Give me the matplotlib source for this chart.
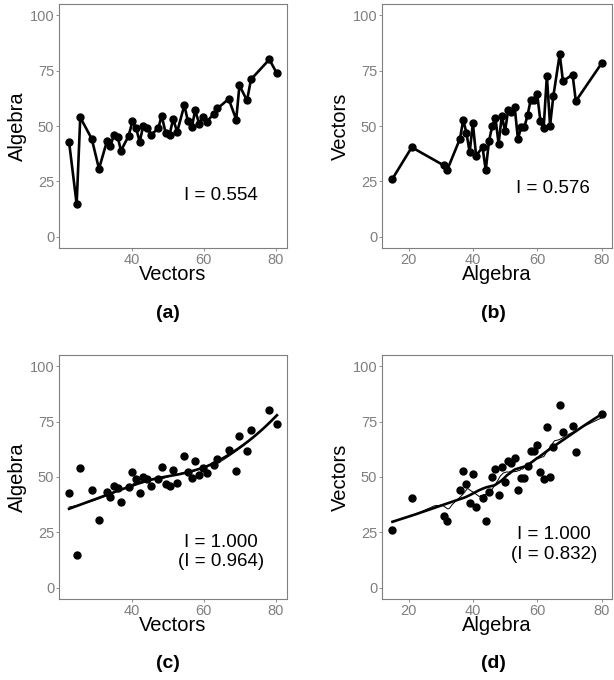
"""
Four panels: conditional means of Algebra given Vectors and the reverse,
raw connected means (a, b) and with smoothed fits (c, d).
"""

import matplotlib
matplotlib.use("Agg")
import matplotlib.pyplot as plt
import numpy as np

plt.rcParams["font.family"] = ["Liberation Sans", "DejaVu Sans"]

# --- data: mean Algebra for each Vectors score ---
vec_x = [22.6, 24.7, 25.7, 28.9, 30.9, 33.1, 34.0, 35.1, 36.1, 37.0,
         39.1, 40.2, 41.2, 42.2, 43.2, 44.3, 45.4, 47.4, 48.3, 49.4,
         50.5, 51.5, 52.6, 54.6, 55.6, 56.7, 57.6, 58.7, 59.7, 60.8,
         62.8, 63.8, 66.9, 69.0, 69.9, 72.0, 73.1, 78.2, 80.3]
alg_mean = [42.8, 14.8, 53.9, 44.2, 30.7, 43.1, 40.8, 46.1, 45.1, 38.9,
            45.4, 52.1, 49.1, 42.8, 50.2, 49.1, 46.0, 49.1, 54.7, 46.9,
            46.1, 53.2, 47.3, 59.4, 52.1, 49.6, 57.1, 51.1, 54.1, 51.8,
            55.6, 57.9, 62.2, 52.9, 68.3, 61.5, 71.0, 80.0, 73.7]

# --- data: mean Vectors for each Algebra score ---
alg_x = [15, 21, 31, 32, 36, 37, 38, 39, 40, 41,
         43, 44, 45, 46, 47, 48, 49, 50, 51, 52,
         53, 54, 55, 56, 57, 58, 59, 60, 61, 62,
         63, 64, 65, 67, 68, 71, 72, 80]
vec_mean = [26.2, 40.4, 32.2, 30.1, 44.3, 52.7, 46.9, 38.1, 51.2, 36.6,
            40.4, 30.1, 43.1, 49.9, 53.8, 42.0, 54.7, 47.6, 57.4, 56.4,
            58.5, 44.2, 49.4, 49.4, 54.9, 61.9, 61.5, 64.3, 52.1, 49.1,
            72.5, 50.2, 63.3, 82.4, 70.2, 73.2, 61.2, 78.2]

dep_a, dep_b = "0.554", "0.576"
dep_c, dep_c_raw = "1.000", "0.964"
dep_d, dep_d_raw = "1.000", "0.832"

GREY = "#7f7f7f"


def loess(x, y, span, deg, grid):
    """简单 loess：三立方权重的局部多项式回归。"""
    x = np.asarray(x, float)
    y = np.asarray(y, float)
    k = int(np.ceil(span * len(x)))
    out = []
    for x0 in grid:
        d = np.abs(x - x0)
        h = np.sort(d)[k - 1] * 1.0001
        w = np.clip(1 - (d / h) ** 3, 0, None) ** 3
        coef = np.polyfit(x - x0, y, deg, w=np.sqrt(w))
        out.append(coef[-1])
    return np.array(out)


def style_axes(ax, xticks, xlim):
    ax.set_xlim(*xlim)
    ax.set_ylim(-5, 105)
    ax.set_xticks(xticks)
    ax.set_yticks([0, 25, 50, 75, 100])
    for s in ax.spines.values():
        s.set_color(GREY)
        s.set_linewidth(0.8)
    ax.tick_params(colors=GREY, labelcolor=GREY, labelsize=10.5,
                   length=2.5, width=0.6, pad=1)


W, H = 614, 680
fig = plt.figure(figsize=(W / 100, H / 100), dpi=100)


def add_ax(left, top, right, bottom):
    return fig.add_axes([left / W, 1 - bottom / H, (right - left) / W, (bottom - top) / H])


ax_a = add_ax(59, 4, 287, 248)
ax_b = add_ax(382, 4, 612, 248)
ax_c = add_ax(59, 355, 287, 599)
ax_d = add_ax(382, 355, 612, 599)

xl_vec = (19.8, 83.1)
xl_alg = (11.75, 83.25)

# (a) / (b) 连线图
ax_a.plot(vec_x, alg_mean, "-o", color="black", lw=1.9, ms=5)
ax_b.plot(alg_x, vec_mean, "-o", color="black", lw=1.9, ms=5)

# (c) / (d) 散点 + 平滑
ax_c.plot(vec_x, alg_mean, "o", color="black", ms=5)
gc = np.linspace(min(vec_x), max(vec_x), 200)
ax_c.plot(gc, loess(vec_x, alg_mean, 0.55, 2, gc), color="black", lw=0.7)
ax_c.plot(gc, loess(vec_x, alg_mean, 0.75, 2, gc), color="black", lw=1.9)

ax_d.plot(alg_x, vec_mean, "o", color="black", ms=5)
gd = np.linspace(min(alg_x), max(alg_x), 300)
ax_d.plot(gd, loess(alg_x, vec_mean, 0.3, 1, gd), color="black", lw=0.7)
ax_d.plot(gd, loess(alg_x, vec_mean, 0.75, 2, gd), color="black", lw=1.9)

for ax in (ax_a, ax_c):
    style_axes(ax, [40, 60, 80], xl_vec)
    ax.set_xlabel("Vectors", fontsize=14.5, labelpad=-1)
    ax.set_ylabel("Algebra", fontsize=14.5, labelpad=2)
for ax in (ax_b, ax_d):
    style_axes(ax, [20, 40, 60, 80], xl_alg)
    ax.set_xlabel("Algebra", fontsize=14.5, labelpad=-1)
    ax.set_ylabel("Vectors", fontsize=14.5, labelpad=2)

txt = dict(fontsize=13.5, ha="center", va="center")
ax_a.text(0.71, 0.217, f"I = {dep_a}", transform=ax_a.transAxes, **txt)
ax_b.text(0.743, 0.242, f"I = {dep_b}", transform=ax_b.transAxes, **txt)
ax_c.text(0.71, 0.232, f"I = {dep_c}", transform=ax_c.transAxes, **txt)
ax_c.text(0.71, 0.153, f"(I = {dep_c_raw})", transform=ax_c.transAxes, **txt)
ax_d.text(0.747, 0.266, f"I = {dep_d}", transform=ax_d.transAxes, **txt)
ax_d.text(0.747, 0.184, f"(I = {dep_d_raw})", transform=ax_d.transAxes, **txt)

# 面板编号
for lab, x, y in [("(a)", 168, 314), ("(b)", 493, 314), ("(c)", 168, 664), ("(d)", 493, 664)]:
    fig.text(x / W, 1 - y / H, lab, fontsize=14, fontweight="bold", ha="center", va="center")

fig.savefig("out.png", dpi=100)
